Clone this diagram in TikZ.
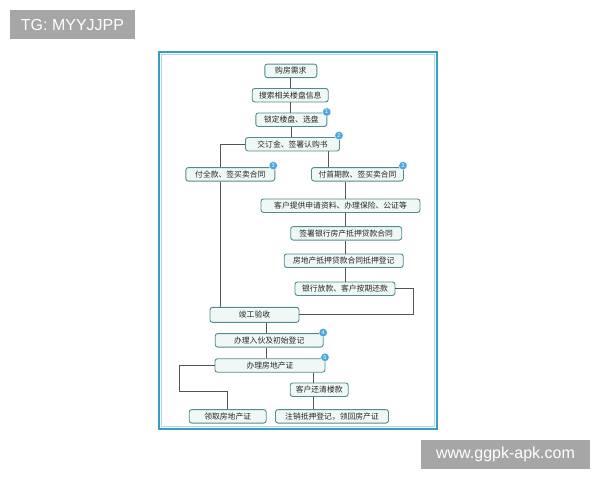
\documentclass[tikz,border=0pt]{standalone}
\usepackage{fontspec}
\setmainfont{Liberation Sans}
\newfontfamily\cjk{Noto Sans CJK SC}
\definecolor{boxline}{HTML}{4F8C8F}
\definecolor{boxfill}{HTML}{F0F8F5}
\definecolor{badgeblue}{HTML}{4AA6DC}
\definecolor{linegray}{HTML}{555555}
\definecolor{frameblue}{HTML}{3A9CC0}
\definecolor{framelight}{HTML}{A8DBE8}
\definecolor{taggray}{HTML}{A6A6A6}

\begin{document}
\begin{tikzpicture}[x=1pt,y=-1pt,
    stepbox/.style={draw=boxline, fill=boxfill, rounded corners=2.5pt, line width=0.9pt,
        minimum height=13.5pt, inner sep=1pt, text=black!85,
        font=\cjk\fontsize{7.8}{8}\selectfont},
    badge/.style={circle, draw=white, line width=0.4pt, fill=badgeblue, text=white,
        inner sep=0pt, minimum size=8.5pt, font=\fontsize{5.5}{5.5}\selectfont},
    link/.style={draw=linegray, line width=0.9pt},
    tagbox/.style={fill=taggray, text=white, minimum height=29.3pt, inner sep=0pt,
        font=\fontsize{16}{16}\selectfont}]
    \useasboundingbox (0,0) rectangle (600,480);

    % watermarks
    \node[tagbox, minimum width=125pt] (tg) at (72.5,24.7) {TG: MYYJJPP};
    \node[tagbox, minimum width=169pt] (site) at (505.5,454.7) {www.ggpk-apk.com};

    % frame
    \draw[frameblue, line width=2pt] (159,52) rectangle (437,429);
    \draw[framelight, line width=0.8pt] (161.5,54.5) rectangle (434.5,426.5);

    % steps before the contract
    \node[stepbox, minimum width=52pt] (need) at (290.8,70.8) {购房需求};
    \node[stepbox, minimum width=76pt] (search) at (290.2,95.2) {搜索相关楼盘信息};
    \node[stepbox, minimum width=71pt] (lock) at (291.3,119.7) {锁定楼盘、选盘};
    \node[stepbox, minimum width=94pt] (deposit) at (292.5,144.2) {交订金、签署认购书};

    % two ways to pay
    \node[stepbox, minimum width=89pt] (full) at (230.3,174.3) {付全款、签买卖合同};
    \node[stepbox, minimum width=92pt] (first) at (357.5,174.3) {付首期款、签买卖合同};

    % loan branch
    \node[stepbox, minimum width=159pt] (apply) at (340.5,205.7) {客户提供申请资料、办理保险、公证等};
    \node[stepbox, minimum width=111pt] (sign) at (346.2,233.3) {签署银行房产抵押贷款合同};
    \node[stepbox, minimum width=119pt] (register) at (343.7,260.7) {房地产抵押贷款合同抵押登记};
    \node[stepbox, minimum width=100pt] (loan) at (345,288.7) {银行放款、客户按期还款};

    % after completion
    \node[stepbox, minimum width=89pt, minimum height=15pt] (accept) at (254.5,314.8) {竣工验收};
    \node[stepbox, minimum width=108pt] (movein) at (269.2,340.3) {办理入伙及初始登记};
    \node[stepbox, minimum width=110pt] (cert) at (270,365.5) {办理房地产证};
    \node[stepbox, minimum width=58pt] (payoff) at (319.2,389.7) {客户还清楼款};
    \node[stepbox, minimum width=77pt] (get) at (227.7,416.3) {领取房地产证};
    \node[stepbox, minimum width=113pt] (cancel) at (332,416.3) {注销抵押登记，领回房产证};

    % numbered badges
    \node[badge] (b1) at ([xshift=-0.5pt,yshift=0.5pt]lock.north east) {1};
    \node[badge] (b2) at ([xshift=-1pt,yshift=1.5pt]deposit.north east) {2};
    \node[badge] (b3) at ([xshift=-2pt,yshift=1.5pt]full.north east) {3};
    \node[badge] (b4) at ([xshift=-1pt,yshift=1.5pt]first.north east) {3};
    \node[badge] (b5) at ([xshift=-0.5pt,yshift=0.5pt]movein.north east) {4};
    \node[badge] (b6) at ([xshift=-0.5pt,yshift=1pt]cert.north east) {5};

    % turn points
    \coordinate (lx) at (220.5,0);
    \coordinate (rx) at (328.3,0);
    \coordinate (mx) at (345,0);
    \coordinate (ex) at (413.3,0);
    \coordinate (cx) at (266.7,0);
    \coordinate (gx) at (179.3,391.7);
    \coordinate (px) at (313.3,0);

    % connectors
    \draw[link] (need) -- (need |- search.north);
    \draw[link] (search) -- (search |- lock.north);
    \draw[link] (lock) -- (lock |- deposit.north);
    \draw[link] (deposit.west) -| (lx |- full.north);
    \draw[link] (rx |- deposit.south) -- (rx |- first.north);
    \draw[link] (mx |- first.south) -- (mx |- apply.north);
    \draw[link] (mx |- apply.south) -- (mx |- sign.north);
    \draw[link] (mx |- sign.south) -- (mx |- register.north);
    \draw[link] (mx |- register.south) -- (mx |- loan.north);
    \draw[link] (loan.east) -| (ex |- accept) -- (accept.east);
    \draw[link] (lx |- full.south) -- (lx |- accept.north);
    \draw[link] (cx |- accept.south) -- (cx |- movein.north);
    \draw[link] (cx |- movein.south) -- (cx |- cert.north);
    \draw[link] (cert.west) -| (gx) -| (get.north);
    \draw[link] (px |- cert.south) -- (px |- payoff.north);
    \draw[link] (px |- payoff.south) -- (px |- cancel.north);
\end{tikzpicture}
\end{document}
